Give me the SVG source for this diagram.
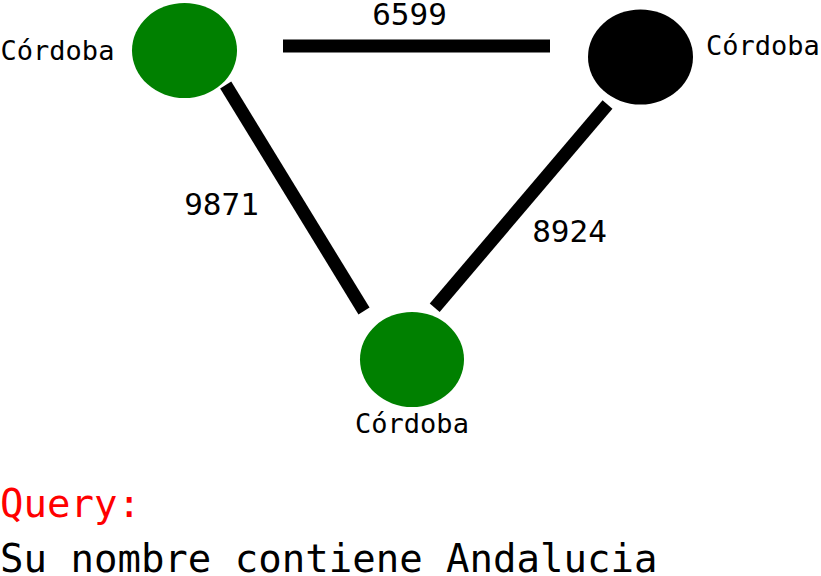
<svg xmlns="http://www.w3.org/2000/svg" width="821" height="576" viewBox="0 0 821 576">
<style>
text{font-family:"DejaVu Sans Mono","Liberation Mono",monospace;fill:#000}
.node{font-size:27px}
.edge{stroke:#000;stroke-width:13;fill:none}
.elabel{font-size:31px;text-anchor:middle}
.q{font-size:39px}
</style>
<rect width="821" height="576" fill="#fff"/>
<g id="edges">
<line class="edge" x1="283" y1="46" x2="550" y2="46"/>
<line class="edge" x1="225.7" y1="85" x2="364" y2="311"/>
<line class="edge" x1="607.5" y1="104.5" x2="434.7" y2="307.8"/>
<text class="elabel" x="409.5" y="25">6599</text>
<text class="elabel" x="221.5" y="215">9871</text>
<text class="elabel" x="569.5" y="242">8924</text>
</g>
<g id="node1">
<ellipse cx="184.5" cy="50.5" rx="52.5" ry="47.5" fill="#008000"/>
<text class="node" x="57.5" y="60" text-anchor="middle">Córdoba</text>
</g>
<g id="node2">
<ellipse cx="640.5" cy="57" rx="52.5" ry="47.5" fill="#000"/>
<text class="node" x="706" y="55">Córdoba</text>
</g>
<g id="node3">
<ellipse cx="412" cy="359.5" rx="52" ry="47.5" fill="#008000"/>
<text class="node" x="412" y="433" text-anchor="middle">Córdoba</text>
</g>
<g id="query">
<text class="q" x="0" y="517" style="fill:#ff0000">Query:</text>
<text class="q" x="0" y="572">Su nombre contiene Andalucia</text>
</g>
</svg>
